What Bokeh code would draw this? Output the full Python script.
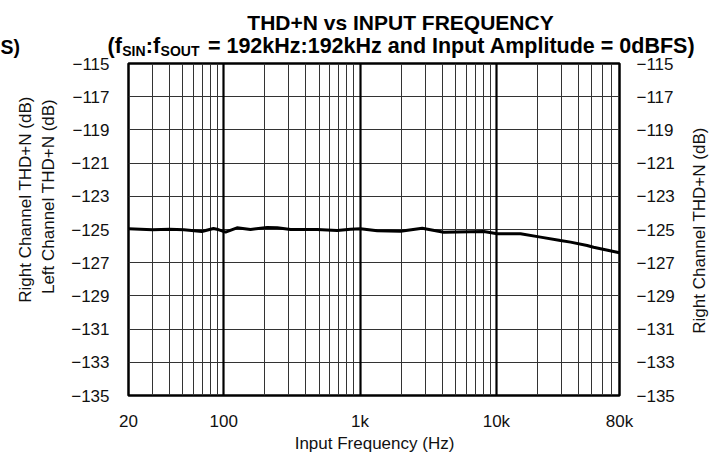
import math
from bokeh.plotting import figure
from bokeh.models import Range1d, LinearAxis, FixedTicker, Grid, Label
from bokeh.embed import file_html
from bokeh.resources import INLINE

# ---- data ----
freq_hz = [20, 30, 40, 51, 69, 84, 89, 103, 125, 157, 208, 247, 309, 484, 679,
           851, 1007, 1336, 1980, 2858, 4112, 8090, 10140, 15030, 21080, 29500,
           35000, 46300, 51600, 80000]
thd_db = [-124.96, -125.02, -124.98, -125.02, -125.12, -124.94, -124.98, -125.16,
          -124.90, -125.00, -124.88, -124.90, -125.00, -125.00, -125.06, -124.98,
          -124.96, -125.08, -125.10, -124.92, -125.16, -125.12, -125.26, -125.26,
          -125.46, -125.66, -125.76, -125.96, -126.07, -126.40]

x_ticks = [20, 100, 1000, 10000, 80000]
x_tick_labels = ["20", "100", "1k", "10k", "80k"]
y_ticks = [-135, -133, -131, -129, -127, -125, -123, -121, -119, -117, -115]
y_tick_labels = ["\u2212135", "\u2212133", "\u2212131", "\u2212129", "\u2212127", "\u2212125",
                 "\u2212123", "\u2212121", "\u2212119", "\u2212117", "\u2212115"]
x_minor_grid = [30, 40, 50, 60, 70, 80, 90,
                200, 300, 400, 500, 600, 700, 800, 900,
                2000, 3000, 4000, 5000, 6000, 7000, 8000, 9000,
                20000, 30000, 40000, 50000, 60000, 70000]
x_major_grid = [100, 1000, 10000]
y_grid = [-133, -131, -129, -127, -125, -123, -121, -119, -117]

title_line1 = "THD+N vs INPUT FREQUENCY"
sub_in = "SIN"
sub_out = "SOUT"
NB = "\u00a0"
title_line2 = "(f" + NB * 4 + ":f" + NB * 7 + " = 192kHz:192kHz and Input Amplitude = 0dBFS)"
cut_text = "S)"
x_label = "Input Frequency (Hz)"
left_label_outer = "Right Channel THD+N (dB)"
left_label_inner = "Left Channel THD+N (dB)"
right_label = "Right Channel THD+N (dB)"

FONT = "Liberation Sans"
LBL = "17px"

p = figure(width=718, height=462, x_axis_type="log",
           x_range=Range1d(20, 80000), y_range=Range1d(-135, -115),
           output_backend="svg", toolbar_location=None,
           min_border_left=128, min_border_right=99,
           min_border_top=63, min_border_bottom=67)
p.background_fill_color = "white"
p.border_fill_color = "white"
p.outline_line_color = "black"
p.outline_line_width = 2.5

def style_axis(ax, standoff):
    ax.axis_line_color = None
    ax.major_tick_line_color = None
    ax.minor_tick_line_color = None
    ax.major_tick_out = 0
    ax.major_tick_in = 0
    ax.minor_tick_out = 0
    ax.minor_tick_in = 0
    ax.major_label_text_font = FONT
    ax.major_label_text_font_size = LBL
    ax.major_label_text_color = "#111111"
    ax.major_label_standoff = standoff

xa = p.xaxis[0]
xa.ticker = FixedTicker(ticks=x_ticks)
xa.major_label_overrides = {t: s for t, s in zip(x_ticks, x_tick_labels)}
style_axis(xa, 16)

ya = p.yaxis[0]
ya.ticker = FixedTicker(ticks=y_ticks)
ya.major_label_overrides = {t: s for t, s in zip(y_ticks, y_tick_labels)}
style_axis(ya, 19)

ra = LinearAxis(ticker=FixedTicker(ticks=y_ticks),
                major_label_overrides={t: s for t, s in zip(y_ticks, y_tick_labels)})
style_axis(ra, 17)
p.add_layout(ra, "right")

p.xgrid.ticker = FixedTicker(ticks=x_minor_grid)
p.xgrid.grid_line_color = "#333333"
p.xgrid.grid_line_width = 1
p.add_layout(Grid(dimension=0, ticker=FixedTicker(ticks=x_major_grid),
                  grid_line_color="black", grid_line_width=2.2))
p.ygrid.ticker = FixedTicker(ticks=y_grid)
p.ygrid.grid_line_color = "#333333"
p.ygrid.grid_line_width = 1

p.line(freq_hz, thd_db, line_color="black", line_width=3)

# ---- free texts: canvas units, parked in side panels (not clipped there) ----
def lab(place, **kw):
    kw.setdefault("text_font", FONT)
    kw.setdefault("text_color", "#111111")
    p.add_layout(Label(x_units="canvas", y_units="canvas", **kw), place)

lab("left", x=24.5, y=199, text=left_label_outer, angle=math.pi / 2,
    text_align="center", text_baseline="middle", text_font_size=LBL)
lab("left", x=47.5, y=196, text=left_label_inner, angle=math.pi / 2,
    text_align="center", text_baseline="middle", text_font_size=LBL)
lab("right", x=699, y=230, text=right_label, angle=math.pi / 2,
    text_align="center", text_baseline="middle", text_font_size=LBL)
lab("below", x=374, y=443, text=x_label, text_align="center",
    text_baseline="middle", text_font_size=LBL)
lab("right", x=0, y=46, text=cut_text, text_align="left",
    text_baseline="alphabetic", text_font_style="bold",
    text_font_size="19.5px", text_color="black")

TS1 = 21.0
TS2 = 21.5
SS = 14.0
arial_bold = {' ': 278, NB: 278, '(': 333, ')': 333, 'f': 333, 'S': 667, 'I': 278,
              'N': 722, ':': 333, 'O': 778, 'U': 722, 'T': 611, '=': 584, '1': 556,
              '9': 556, '2': 556, 'k': 556, 'H': 722, 'z': 500, 'a': 556, 'n': 611,
              'd': 611, 'p': 611, 'u': 611, 't': 333, 'A': 722, 'm': 889, 'l': 278,
              'i': 278, 'e': 556, '0': 556, 'B': 722, 'F': 611}

def wid(s, size):
    return sum(arial_bold.get(c, 556) for c in s) / 1000.0 * size

lab("above", x=400, y=22, text=title_line1, text_align="center",
    text_baseline="alphabetic", text_font_style="bold",
    text_font_size=f"{TS1}px", text_color="black")

x0 = 401 - wid(title_line2, TS2) / 2
lab("above", x=x0, y=45, text=title_line2, text_align="left",
    text_baseline="alphabetic", text_font_style="bold",
    text_font_size=f"{TS2}px", text_color="black")
gap1 = wid(NB * 4, TS2)
gap2 = wid(NB * 7, TS2)
x_in = x0 + wid("(f", TS2) + (gap1 - wid(sub_in, SS)) / 2
x_out = x0 + wid("(f" + NB * 4 + ":f", TS2) + (gap2 - wid(sub_out, SS)) / 2 - 1
lab("left", x=x_in, y=50, text=sub_in, text_align="left",
    text_baseline="alphabetic", text_font_style="bold",
    text_font_size=f"{SS}px", text_color="black")
lab("above", x=x_out, y=50, text=sub_out, text_align="left",
    text_baseline="alphabetic", text_font_style="bold",
    text_font_size=f"{SS}px", text_color="black")

open("out.html", "w").write(file_html(p, INLINE))
